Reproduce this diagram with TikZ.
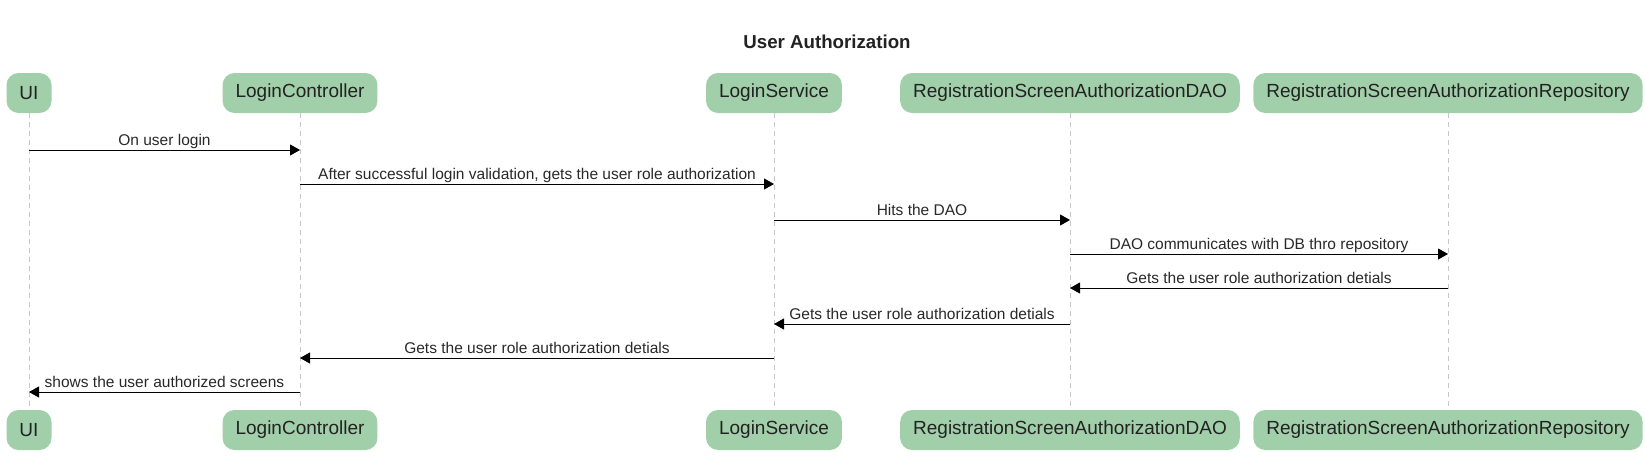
\documentclass[tikz,border=0pt]{standalone}
\usepackage{fontspec}
\setmainfont{Liberation Sans}
\usetikzlibrary{arrows.meta}
\definecolor{boxgreen}{RGB}{161,207,169}
\definecolor{txt}{RGB}{34,34,34}
\definecolor{lbl}{RGB}{40,40,40}
\definecolor{lifegray}{RGB}{200,200,200}
\begin{document}
\begin{tikzpicture}[x=1pt,y=-1pt,
  part/.style={fill=boxgreen,draw=none,rounded corners=12pt,minimum height=40pt,inner xsep=13pt,inner ysep=0pt,text=txt,font=\fontsize{19}{19}\selectfont,anchor=center},
  lifeline/.style={draw=lifegray,dash pattern=on 5pt off 4pt,line width=0.8pt},
  msg/.style={draw=black,line width=1pt,-{Triangle[length=10pt,width=11pt]}},
  msglbl/.style={text=lbl,font=\fontsize{15.5}{15.5}\selectfont,anchor=base,yshift=4.5pt,inner sep=0pt,midway}
  ]
\useasboundingbox (0,0) rectangle (1645,455);
\node[font=\bfseries\fontsize{18.7}{18.7}\selectfont,text=txt] (title) at (827,42) {User Authorization};
% top participants
\node[part] (ui) at (29,93) {UI};
\node[part] (lc) at (300,93) {LoginController};
\node[part] (ls) at (774,93) {LoginService};
\node[part] (dao) at (1070,93) {RegistrationScreenAuthorizationDAO};
\node[part] (repo) at (1448,93) {RegistrationScreenAuthorizationRepository};
% bottom participants
\node[part] (uib) at (29,430) {UI};
\node[part] (lcb) at (300,430) {LoginController};
\node[part] (lsb) at (774,430) {LoginService};
\node[part] (daob) at (1070,430) {RegistrationScreenAuthorizationDAO};
\node[part] (repob) at (1448,430) {RegistrationScreenAuthorizationRepository};
% lifelines
\draw[lifeline] (ui.south) -- (uib.north);
\draw[lifeline] (lc.south) -- (lcb.north);
\draw[lifeline] (ls.south) -- (lsb.north);
\draw[lifeline] (dao.south) -- (daob.north);
\draw[lifeline] (repo.south) -- (repob.north);
% messages
\coordinate (m1s) at (29,150);  \coordinate (m1e) at (300,150);
\coordinate (m2s) at (300,184); \coordinate (m2e) at (774,184);
\coordinate (m3s) at (774,220); \coordinate (m3e) at (1070,220);
\coordinate (m4s) at (1070,254); \coordinate (m4e) at (1448,254);
\coordinate (m5s) at (1448,288); \coordinate (m5e) at (1070,288);
\coordinate (m6s) at (1070,324); \coordinate (m6e) at (774,324);
\coordinate (m7s) at (774,358); \coordinate (m7e) at (300,358);
\coordinate (m8s) at (300,392); \coordinate (m8e) at (29,392);
\draw[msg] (m1s) -- node[msglbl] (l1) {On user login} (m1e);
\draw[msg] (m2s) -- node[msglbl] (l2) {After successful login validation, gets the user role authorization} (m2e);
\draw[msg] (m3s) -- node[msglbl] (l3) {Hits the DAO} (m3e);
\draw[msg] (m4s) -- node[msglbl] (l4) {DAO communicates with DB thro repository} (m4e);
\draw[msg] (m5s) -- node[msglbl] (l5) {Gets the user role authorization detials} (m5e);
\draw[msg] (m6s) -- node[msglbl] (l6) {Gets the user role authorization detials} (m6e);
\draw[msg] (m7s) -- node[msglbl] (l7) {Gets the user role authorization detials} (m7e);
\draw[msg] (m8s) -- node[msglbl] (l8) {shows the user authorized screens} (m8e);
\end{tikzpicture}
\end{document}
